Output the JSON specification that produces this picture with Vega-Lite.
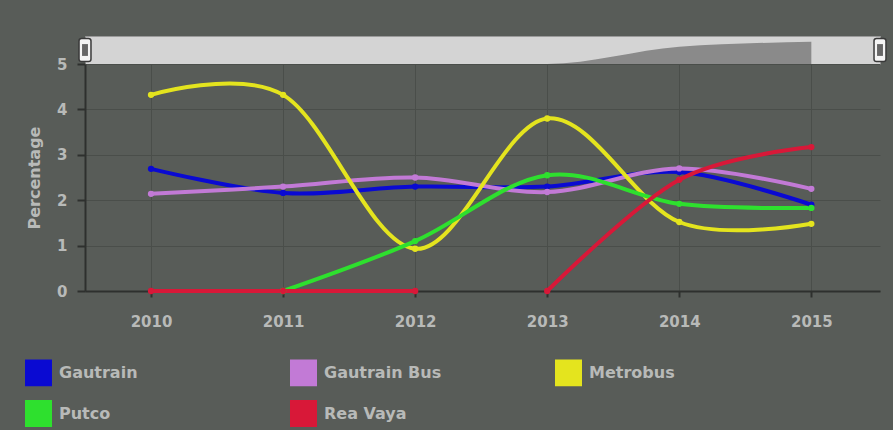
{
  "$schema": "https://vega.github.io/schema/vega-lite/v6.json",
  "background": "#585c58",
  "padding": {"left": 25, "top": 35, "right": 13, "bottom": 0},
  "bounds": "flush",
  "config": {
    "font": "DejaVu Sans",
    "view": {"stroke": null},
    "axis": {
      "domainColor": "#2e302e", "domainWidth": 2,
      "tickColor": "#2e302e", "tickWidth": 2,
      "gridColor": "#4a4e4a", "gridWidth": 1,
      "labelColor": "#b8bab8", "labelFont": "DejaVu Sans", "labelFontSize": 15, "labelFontWeight": "bold",
      "titleColor": "#b8bab8", "titleFont": "DejaVu Sans", "titleFontSize": 16, "titleFontWeight": "bold"
    }
  },
  "datasets": {
    "series": [
      {"series": "Gautrain", "year": 2010, "value": 2.69, "seg": "a"},
      {"series": "Gautrain", "year": 2011, "value": 2.16, "seg": "a"},
      {"series": "Gautrain", "year": 2012, "value": 2.3, "seg": "a"},
      {"series": "Gautrain", "year": 2013, "value": 2.3, "seg": "a"},
      {"series": "Gautrain", "year": 2014, "value": 2.62, "seg": "a"},
      {"series": "Gautrain", "year": 2015, "value": 1.9, "seg": "a"},
      {"series": "Gautrain Bus", "year": 2010, "value": 2.14, "seg": "a"},
      {"series": "Gautrain Bus", "year": 2011, "value": 2.3, "seg": "a"},
      {"series": "Gautrain Bus", "year": 2012, "value": 2.5, "seg": "a"},
      {"series": "Gautrain Bus", "year": 2013, "value": 2.18, "seg": "a"},
      {"series": "Gautrain Bus", "year": 2014, "value": 2.7, "seg": "a"},
      {"series": "Gautrain Bus", "year": 2015, "value": 2.25, "seg": "a"},
      {"series": "Metrobus", "year": 2010, "value": 4.32, "seg": "a"},
      {"series": "Metrobus", "year": 2011, "value": 4.32, "seg": "a"},
      {"series": "Metrobus", "year": 2012, "value": 0.93, "seg": "a"},
      {"series": "Metrobus", "year": 2013, "value": 3.8, "seg": "a"},
      {"series": "Metrobus", "year": 2014, "value": 1.52, "seg": "a"},
      {"series": "Metrobus", "year": 2015, "value": 1.48, "seg": "a"},
      {"series": "Putco", "year": 2011, "value": 0, "seg": "a"},
      {"series": "Putco", "year": 2012, "value": 1.1, "seg": "a"},
      {"series": "Putco", "year": 2013, "value": 2.55, "seg": "a"},
      {"series": "Putco", "year": 2014, "value": 1.92, "seg": "a"},
      {"series": "Putco", "year": 2015, "value": 1.83, "seg": "a"},
      {"series": "Rea Vaya", "year": 2010, "value": 0, "seg": "a"},
      {"series": "Rea Vaya", "year": 2011, "value": 0, "seg": "a"},
      {"series": "Rea Vaya", "year": 2012, "value": 0, "seg": "a"},
      {"series": "Rea Vaya", "year": 2013, "value": 0, "seg": "b"},
      {"series": "Rea Vaya", "year": 2014, "value": 2.45, "seg": "b"},
      {"series": "Rea Vaya", "year": 2015, "value": 3.17, "seg": "b"}
    ]
  },
  "spacing": 0,
  "vconcat": [
    {
      "width": 795,
      "height": 28,
      "view": {"fill": "#d4d4d4", "stroke": "#9a9a9a"},
      "layer": [
        {
          "data": {"name": "series"},
          "transform": [{"filter": "datum.series === 'Rea Vaya'"}],
          "mark": {"type": "area", "color": "#8a8a8a", "interpolate": "monotone", "opacity": 1},
          "encoding": {
            "x": {"field": "year", "type": "quantitative", "scale": {"domain": [2009.5, 2015.52], "nice": false, "zero": false}, "axis": null},
            "y": {"field": "value", "type": "quantitative", "scale": {"domain": [0, 4]}, "axis": null}
          }
        },
        {
          "data": {"values": [{}]},
          "mark": {"type": "point", "shape": "M-0.3,-1H0.3Q0.52,-1 0.52,-0.8V0.8Q0.52,1 0.3,1H-0.3Q-0.52,1 -0.52,0.8V-0.8Q-0.52,-1 -0.3,-1Z", "size": 529, "filled": true, "fill": "#f4f4f4", "stroke": "#3a3a3a", "strokeWidth": 1.5, "opacity": 1},
          "encoding": {"x": {"datum": 2009.5, "type": "quantitative"}, "y": {"datum": 2, "type": "quantitative"}}
        },
        {
          "data": {"values": [{}]},
          "mark": {"type": "point", "shape": "M-0.5,-1H0.5V1H-0.5Z", "size": 140, "filled": true, "fill": "#666666", "strokeWidth": 0, "opacity": 1},
          "encoding": {"x": {"datum": 2009.5, "type": "quantitative"}, "y": {"datum": 2, "type": "quantitative"}}
        },
        {
          "data": {"values": [{}]},
          "mark": {"type": "point", "shape": "M-0.3,-1H0.3Q0.52,-1 0.52,-0.8V0.8Q0.52,1 0.3,1H-0.3Q-0.52,1 -0.52,0.8V-0.8Q-0.52,-1 -0.3,-1Z", "size": 529, "filled": true, "fill": "#f4f4f4", "stroke": "#3a3a3a", "strokeWidth": 1.5, "opacity": 1},
          "encoding": {"x": {"datum": 2015.52, "type": "quantitative"}, "y": {"datum": 2, "type": "quantitative"}}
        },
        {
          "data": {"values": [{}]},
          "mark": {"type": "point", "shape": "M-0.5,-1H0.5V1H-0.5Z", "size": 140, "filled": true, "fill": "#666666", "strokeWidth": 0, "opacity": 1},
          "encoding": {"x": {"datum": 2015.52, "type": "quantitative"}, "y": {"datum": 2, "type": "quantitative"}}
        }
      ]
    },
    {
      "width": 795,
      "height": 227,
      "data": {"name": "series"},
      "encoding": {
        "x": {
          "field": "year", "type": "quantitative",
          "scale": {"domain": [2009.5, 2015.52], "nice": false, "zero": false},
          "axis": {"values": [2010, 2011, 2012, 2013, 2014, 2015], "format": "d", "title": null, "tickSize": 6, "labelPadding": 17}
        },
        "y": {
          "field": "value", "type": "quantitative",
          "scale": {"domain": [0, 5], "nice": false},
          "axis": {"values": [0, 1, 2, 3, 4, 5], "title": "Percentage", "tickSize": 8, "labelPadding": 10, "titlePadding": 14}
        },
        "color": {
          "field": "series", "type": "nominal",
          "scale": {
            "domain": ["Gautrain", "Gautrain Bus", "Metrobus", "Putco", "Rea Vaya"],
            "range": ["#0a0ad2", "#c27ad6", "#e4e41e", "#2ee02e", "#d81838"]
          },
          "legend": {
            "title": null, "orient": "none", "legendX": -60, "legendY": 323,
            "direction": "horizontal", "columns": 3, "gridAlign": "all",
            "columnPadding": 110, "rowPadding": 8, "padding": 0,
            "labelFontSize": 16, "labelFontWeight": "bold", "labelColor": "#b8bab8", "labelFont": "DejaVu Sans", "labelOffset": 7,
            "symbolSize": 650, "symbolType": "square",
            "encode": {"symbols": {"update": {"fill": {"scale": "color", "field": "value"}, "stroke": {"value": "transparent"}, "opacity": {"value": 1}}}}
          }
        }
      },
      "layer": [
        {"mark": {"type": "line", "interpolate": "cardinal", "strokeWidth": 4}, "encoding": {"detail": {"field": "seg"}}},
        {"mark": {"type": "point", "filled": true, "size": 40, "opacity": 1}}
      ]
    }
  ]
}
